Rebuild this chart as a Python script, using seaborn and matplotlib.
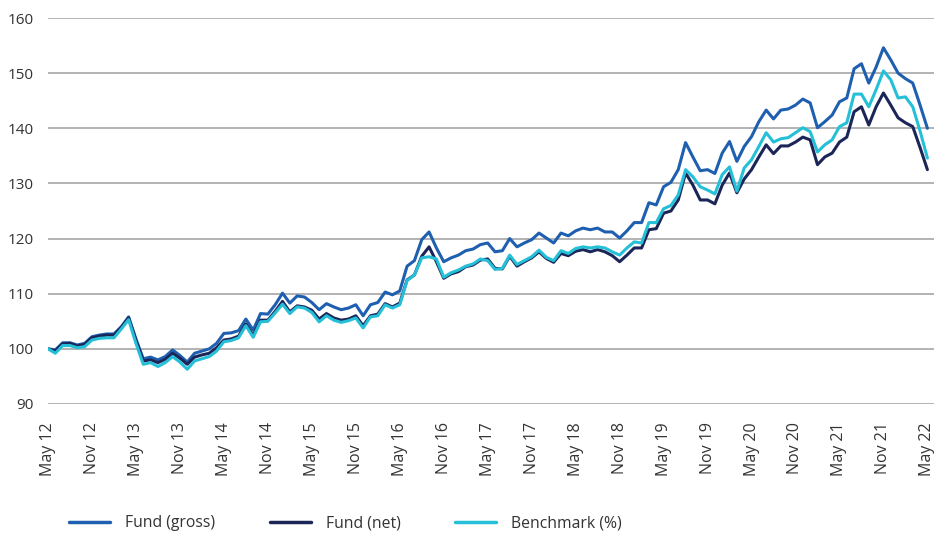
import matplotlib
matplotlib.use("Agg")
import matplotlib.pyplot as plt
import seaborn as sns
import numpy as np
import pandas as pd

# monthly index values, May 12 .. May 22 (121 points)
fund_gross = [
    100.0, 99.8, 101.1, 101.1, 100.7, 101.0, 102.2, 102.5, 102.7, 102.7, 104.0, 105.8,
    101.8, 98.2, 98.5, 98.0, 98.6, 99.8, 98.8, 97.6, 99.2, 99.6, 100.0, 101.0,
    102.8, 102.9, 103.3, 105.4, 103.4, 106.4, 106.3, 108.0, 110.1, 108.3, 109.6, 109.4,
    108.4, 107.1, 108.2, 107.6, 107.1, 107.4, 108.0, 106.0, 108.0, 108.4, 110.3, 109.8,
    110.5, 115.0, 116.0, 119.8, 121.2, 118.3, 115.8, 116.5, 117.0, 117.8, 118.1, 118.9,
    119.2, 117.6, 117.8, 120.0, 118.5, 119.2, 119.8, 121.0, 120.1, 119.2, 121.0, 120.5,
    121.4, 121.9, 121.6, 121.9, 121.2, 121.2, 120.1, 121.4, 122.9, 122.9, 126.5, 126.1,
    129.4, 130.2, 132.5, 137.4, 134.8, 132.3, 132.5, 131.8, 135.5, 137.6, 134.0, 136.7,
    138.5, 141.2, 143.3, 141.7, 143.3, 143.5, 144.2, 145.3, 144.6, 140.1, 141.2, 142.4,
    144.8, 145.5, 150.8, 151.7, 148.2, 151.1, 154.6, 152.4, 150.0, 149.0, 148.2, 144.2,
    140.0,
]
fund_net = [
    100.0, 99.6, 100.9, 101.0, 100.5, 100.8, 102.0, 102.3, 102.5, 102.5, 103.9, 105.6,
    101.5, 97.8, 98.0, 97.5, 98.1, 99.2, 98.3, 97.2, 98.5, 98.9, 99.2, 100.2,
    101.6, 101.8, 102.3, 104.5, 102.4, 105.2, 105.2, 106.8, 108.6, 106.7, 107.8, 107.6,
    107.0, 105.4, 106.4, 105.6, 105.2, 105.4, 106.0, 104.2, 106.0, 106.3, 108.2, 107.6,
    108.3, 112.5, 113.4, 116.8, 118.5, 115.8, 112.8, 113.6, 114.0, 114.9, 115.2, 116.1,
    116.3, 114.6, 114.5, 116.8, 115.0, 115.8, 116.5, 117.6, 116.4, 115.7, 117.3, 116.9,
    117.7, 118.0, 117.6, 118.0, 117.6, 116.9, 115.8, 117.0, 118.3, 118.3, 121.6, 121.8,
    124.6, 125.0, 127.0, 131.9, 129.7, 127.0, 127.0, 126.3, 129.7, 131.9, 128.3, 130.8,
    132.5, 134.8, 137.0, 135.4, 136.8, 136.8, 137.5, 138.4, 137.9, 133.4, 134.8, 135.5,
    137.5, 138.4, 143.0, 143.9, 140.6, 143.9, 146.4, 144.2, 141.9, 141.0, 140.3, 136.5,
    132.5,
]
benchmark = [
    100.0, 99.2, 100.6, 100.6, 100.2, 100.4, 101.6, 101.9, 102.0, 102.0, 103.6, 105.3,
    101.0, 97.2, 97.5, 96.8, 97.5, 98.6, 97.6, 96.3, 97.8, 98.2, 98.6, 99.6,
    101.3, 101.5, 102.0, 104.2, 102.1, 104.9, 105.0, 106.5, 108.1, 106.4, 107.6, 107.4,
    106.6, 104.9, 106.0, 105.2, 104.8, 105.1, 105.6, 103.8, 105.8, 106.0, 108.0, 107.4,
    108.0, 112.4, 113.4, 116.5, 116.7, 116.3, 113.0, 113.8, 114.3, 115.0, 115.4, 116.3,
    116.0, 114.4, 114.6, 117.0, 115.3, 116.0, 116.7, 117.9, 116.6, 116.0, 117.8, 117.3,
    118.2, 118.5, 118.3, 118.5, 118.3, 117.6, 117.0, 118.3, 119.4, 119.2, 122.9, 122.9,
    125.4, 126.0, 127.9, 132.5, 131.2, 129.4, 128.8, 128.1, 131.6, 133.0, 128.6, 132.8,
    134.3, 136.7, 139.2, 137.5, 138.1, 138.3, 139.2, 140.1, 139.4, 135.7, 137.0, 137.9,
    140.3, 141.0, 146.2, 146.2, 143.9, 147.0, 150.4, 148.8, 145.5, 145.7, 143.9, 139.5,
    134.6,
]
tick_labels = ["May 12", "Nov 12", "May 13", "Nov 13", "May 14", "Nov 14", "May 15",
               "Nov 15", "May 16", "Nov 16", "May 17", "Nov 17", "May 18", "Nov 18",
               "May 19", "Nov 19", "May 20", "Nov 20", "May 21", "Nov 21", "May 22"]
series_names = ["Fund (gross)", "Fund (net)", "Benchmark (%)"]
colors = ["#1f5fb0", "#1b2558", "#25c0d8"]

months = np.arange(len(fund_gross))
df = pd.DataFrame({
    "month": np.tile(months, 3),
    "value": fund_gross + fund_net + benchmark,
    "series": np.repeat(series_names, len(months)),
})

sns.set_style("white")
plt.rcParams["font.family"] = ["Open Sans", "DejaVu Sans"]

fig = plt.figure(figsize=(9.34, 5.33), dpi=100)
ax = fig.add_axes([48 / 934, 1 - 404 / 533, 886 / 934, 386 / 533])

sns.lineplot(data=df, x="month", y="value", hue="series", hue_order=series_names,
             palette=colors, linewidth=2.2, ax=ax, legend=False, zorder=3)

ax.set_ylim(90, 160)
ax.set_xlim(0, 120.9)
ax.set_yticks(range(90, 161, 10))
ax.yaxis.grid(True, color="#a6a6a6", linewidth=1.2)
ax.set_xticks(range(0, 121, 6))
ax.set_xticklabels(tick_labels, rotation=90)
ax.tick_params(axis="both", length=0, labelsize=11, colors="#333333")
ax.tick_params(axis="y", pad=10)
ax.tick_params(axis="x", pad=13, labelsize=11.5)
ax.set_xlabel("")
ax.set_ylabel("")
for s in ax.spines.values():
    s.set_visible(False)

handles = [plt.Line2D([], [], color=c, linewidth=2.5) for c in colors]
fig.legend(handles, series_names, loc="center left", bbox_to_anchor=(55 / 934, 1 - 523 / 533),
           ncol=3, frameon=False, fontsize=11.3, handlelength=2.6, handletextpad=0.95,
           columnspacing=3.5, labelcolor="#333333")

fig.savefig("out.png", dpi=100)
